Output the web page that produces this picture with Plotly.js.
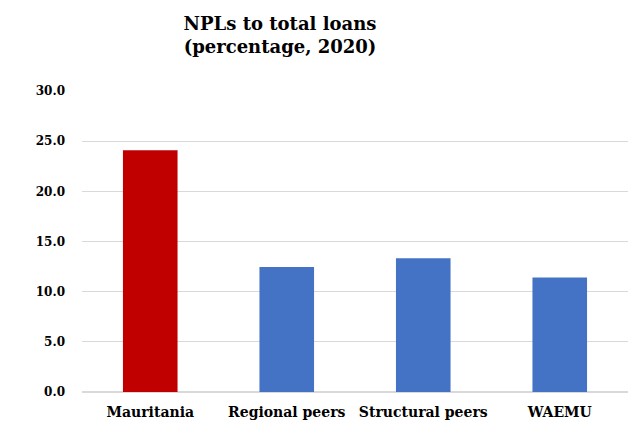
<!DOCTYPE html>
<html>
<head>
<meta charset="utf-8">
<script src="https://cdn.plot.ly/plotly-3.0.1.min.js"></script>
<style>html,body{margin:0;padding:0;background:#fff;}#chart{width:628px;height:423px;}</style>
</head>
<body>
<div id="chart"></div>
<script>
var categories = ["Mauritania", "Regional peers", "Structural peers", "WAEMU"];
var nplValues = [24.1, 12.45, 13.33, 11.42];
var barColors = ["#C00000", "#4472C4", "#4472C4", "#4472C4"];
var yTickVals = [0, 5, 10, 15, 20, 25, 30];
var yTickText = ["0.0", "5.0", "10.0", "15.0", "20.0", "25.0", "30.0"];

var serif = "DejaVu Serif";

var data = [{
  type: "bar",
  x: categories,
  y: nplValues,
  marker: {color: barColors},
  hoverinfo: "x+y"
}];

var layout = {
  width: 628,
  height: 423,
  margin: {l: 82, r: 0, t: 91, b: 31},
  paper_bgcolor: "#fff",
  plot_bgcolor: "#fff",
  bargap: 0.6,
  showlegend: false,
  font: {family: serif},
  title: {
    text: "<b>NPLs to total loans<br>(percentage, 2020)</b>",
    font: {family: serif, size: 18, color: "#000"},
    x: 280 / 628,
    xref: "container",
    xanchor: "center",
    y: 1 - 30 / 423,
    yref: "container",
    yanchor: "middle"
  },
  xaxis: {
    type: "category",
    showgrid: false,
    zeroline: false,
    showline: false,
    ticks: "",
    tickfont: {family: serif, size: 14, color: "#000", weight: "bold"},
    ticklabelstandoff: 10
  },
  yaxis: {
    range: [0, 30],
    tickvals: yTickVals,
    ticktext: yTickText,
    showgrid: true,
    gridcolor: "#d9d9d9",
    gridwidth: 1.3,
    zeroline: true,
    zerolinecolor: "#d9d9d9",
    zerolinewidth: 1.3,
    showline: false,
    ticks: "",
    tickfont: {family: serif, size: 12, color: "#000", weight: "bold"},
    ticklabelstandoff: 16,
    fixedrange: true
  }
};

Plotly.newPlot("chart", data, layout, {displayModeBar: false, staticPlot: true});
</script>
</body>
</html>
